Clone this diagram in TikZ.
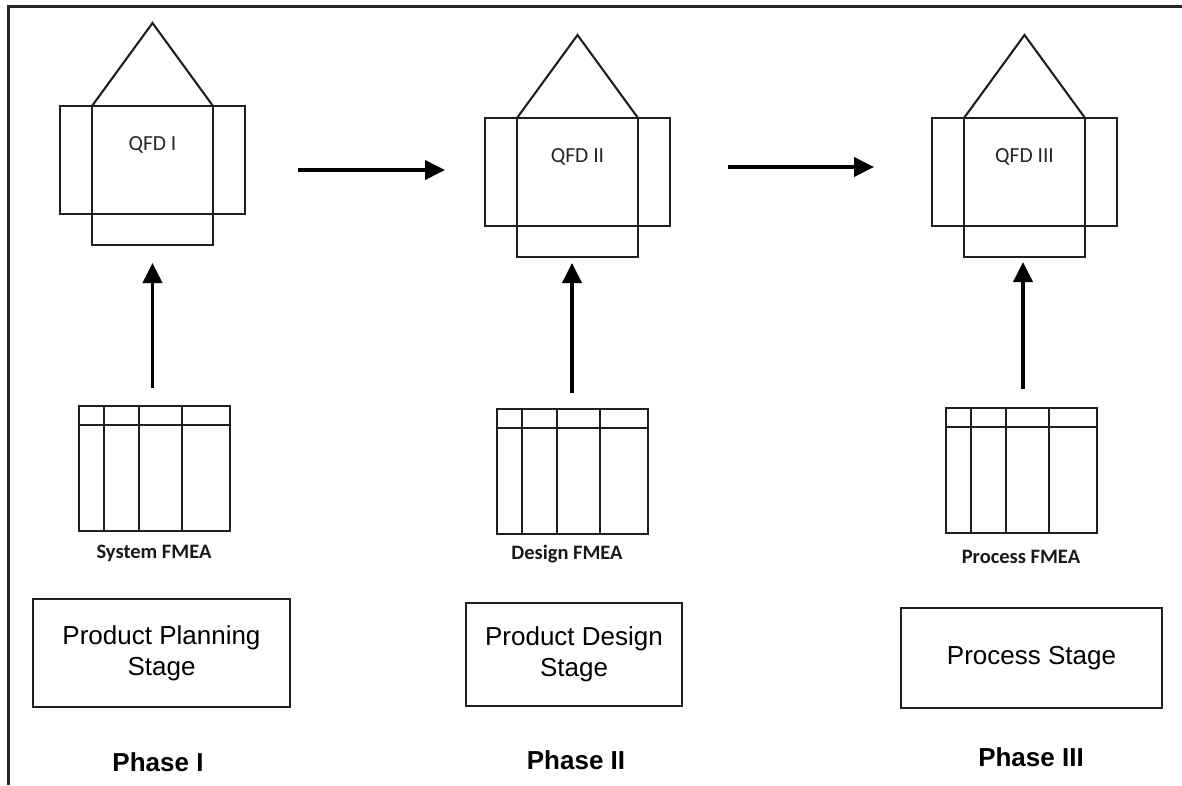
\documentclass[tikz,border=0pt]{standalone}
\usepackage{fontspec}
\setmainfont{Liberation Sans}
\newfontfamily\carlito{Carlito}
\usetikzlibrary{arrows.meta}

\tikzset{
  qfdbox/.style={draw=black!88, line width=2.1pt, inner sep=0pt, outer sep=0pt},
  tablebox/.style={draw=black!88, line width=2.5pt, inner sep=0pt, outer sep=0pt,
    minimum width=151pt, minimum height=125pt, anchor=north west},
  tableline/.style={draw=black!88, line width=2.5pt},
  stagebox/.style={draw=black!88, line width=2.9pt, inner sep=0pt, outer sep=0pt,
    align=center, font=\fontsize{26}{31}\selectfont},
  qfdlabel/.style={font=\carlito\fontsize{21.5}{24}\selectfont, text=black!85, inner sep=0pt},
  fmealabel/.style={font=\carlito\bfseries\fontsize{20.5}{24}\selectfont, text=black!90, inner sep=0pt},
  phaselabel/.style={font=\bfseries\fontsize{26}{30}\selectfont, inner sep=0pt},
  flow/.style={draw=black, line width=3.8pt, -{Triangle[length=20pt,width=19pt]}},
  frameline/.style={draw=black!85, line width=3pt}
}

% house of quality: name, centre x, top of main square, caption
\newcommand\qfdhouse[4]{%
  \node[qfdbox, minimum width=121pt, minimum height=108pt, anchor=north] (#1) at (#2,#3) {};
  \node[qfdbox, minimum width=32pt, minimum height=108pt, anchor=north east] (#1-l) at (#1.north west) {};
  \node[qfdbox, minimum width=32pt, minimum height=108pt, anchor=north west] (#1-r) at (#1.north east) {};
  \node[qfdbox, minimum width=121pt, minimum height=31pt, anchor=north] (#1-b) at (#1.south) {};
  \coordinate (#1-apex) at ([yshift=83pt]#1.north);
  \draw[qfdbox] (#1.north west) -- (#1-apex) -- (#1.north east);
  \node[qfdlabel] (#1-t) at ([yshift=-39pt]#1.north) {#4};
}

% FMEA worksheet: name, top-left x, top-left y
\newcommand\fmeasheet[3]{%
  \node[tablebox] (#1) at (#2,#3) {};
  \draw[tableline] ([yshift=-19pt]#1.north west) -- ([yshift=-19pt]#1.north east);
  \foreach \cx in {25,60,103}
    \draw[tableline] ([xshift=\cx pt]#1.north west) -- ([xshift=\cx pt]#1.south west);
}

\begin{document}
\begin{tikzpicture}[x=1pt,y=-1pt]
  \useasboundingbox (0,0) rectangle (1182,785);

  % frame
  \coordinate (fr-tl) at (8,6);
  \coordinate (fr-tr) at (1182,6);
  \coordinate (fr-bl) at (8,785);
  \draw[frameline] (fr-tr) -- (fr-tl) -- (fr-bl);

  % houses of quality
  \qfdhouse{h1}{152.5}{106}{QFD I}
  \qfdhouse{h2}{577.5}{118}{QFD II}
  \qfdhouse{h3}{1024.5}{118}{QFD III}

  % FMEA worksheets
  \fmeasheet{t1}{79}{406}
  \fmeasheet{t2}{497}{409}
  \fmeasheet{t3}{946}{408}
  \node[fmealabel] (t1-cap) at (154,553) {System FMEA};
  \node[fmealabel] (t2-cap) at (567,554) {Design FMEA};
  \node[fmealabel] (t3-cap) at (1021,557) {Process FMEA};

  % stages
  \node[stagebox, minimum width=257pt, minimum height=108pt] (s1) at (161.5,653) {Product Planning\\Stage};
  \node[stagebox, minimum width=216pt, minimum height=103pt] (s2) at (574,654.5) {Product Design\\Stage};
  \node[stagebox, minimum width=261pt, minimum height=100pt] (s3) at (1031.5,658) {Process Stage};

  % phases
  \node[phaselabel] (p1) at (158,762) {Phase I};
  \node[phaselabel] (p2) at (576,760) {Phase II};
  \node[phaselabel] (p3) at (1031,757) {Phase III};

  % flow between houses
  \draw[flow] ([xshift=53pt,yshift=-64pt]h1-r.north east) -- ([xshift=-40pt,yshift=-52pt]h2-l.north west);
  \draw[flow] ([xshift=58pt,yshift=-49pt]h2-r.north east) -- ([xshift=-58pt,yshift=-49pt]h3-l.north west);

  % FMEA feeding each house
  \draw[flow] ([yshift=18pt]t1.north -| h1.south) -- ([yshift=-18pt]h1-b.south);
  \draw[flow] ([yshift=16pt]t2.north -| 572,0) -- ([yshift=-6pt]h2-b.south -| 572,0);
  \draw[flow] ([yshift=19pt]t3.north -| 1023,0) -- ([yshift=-5pt]h3-b.south -| 1023,0);
\end{tikzpicture}
\end{document}
